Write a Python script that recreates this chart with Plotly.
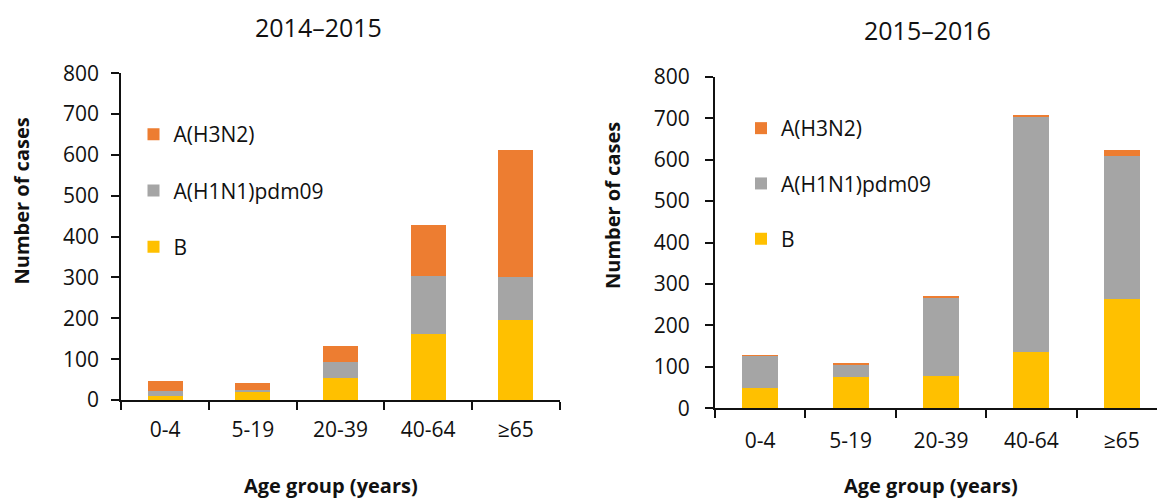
import plotly.graph_objects as go

W, H = 1157, 499

age_groups = ["0-4", "5-19", "20-39", "40-64", "≥65"]
series_names = ["B", "A(H1N1)pdm09", "A(H3N2)"]
series_colors = ["#FFC000", "#A5A5A5", "#ED7D31"]
legend_ranks = [3, 2, 1]

# 2014–2015 season
b_1415 = [10, 19, 55, 162, 197]
h1n1_1415 = [12, 6, 38, 142, 104]
h3n2_1415 = [25, 17, 40, 124, 312]

# 2015–2016 season
b_1516 = [48, 75, 78, 137, 264]
h1n1_1516 = [79, 32, 190, 568, 344]
h3n2_1516 = [1, 2, 2, 3, 14]

titles = ["2014–2015", "2015–2016"]
x_title = "Age group (years)"
y_title = "Number of cases"

FONT = "Open Sans"
TXT = "#111111"

def px(x):
    return x / W

def py(y):
    return (H - y) / H

fig = go.Figure()

for vals, name, col, rk in zip([b_1415, h1n1_1415, h3n2_1415], series_names, series_colors, legend_ranks):
    fig.add_trace(go.Bar(x=age_groups, y=vals, name=name, marker=dict(color=col, line=dict(width=0)),
                         xaxis="x", yaxis="y", legend="legend", legendgroup=name + "1", legendrank=rk))
for vals, name, col, rk in zip([b_1516, h1n1_1516, h3n2_1516], series_names, series_colors, legend_ranks):
    fig.add_trace(go.Bar(x=age_groups, y=vals, name=name, marker=dict(color=col, line=dict(width=0)),
                         xaxis="x2", yaxis="y2", legend="legend2", legendgroup=name + "2", legendrank=rk))

axis_common = dict(showline=True, linecolor="#111111", linewidth=2, ticks="outside", ticklen=8,
                   tickwidth=2, tickcolor="#111111", showgrid=False, zeroline=False, automargin=False,
                   tickfont=dict(family=FONT, size=21, color=TXT))

fig.update_layout(
    template="none",
    width=W, height=H, margin=dict(l=0, r=0, t=0, b=0, pad=0, autoexpand=False),
    paper_bgcolor="white", plot_bgcolor="white",
    barmode="stack", bargap=0.6,
    font=dict(family=FONT, color=TXT),
    xaxis=dict(domain=[px(121.3), px(559.7)], anchor="y", type="category", range=[-0.5, 4.5],
               tickson="boundaries", ticklabelstandoff=10, **axis_common),
    yaxis=dict(domain=[py(400), py(73.3)], anchor="x", range=[0, 800], dtick=100,
               ticklabelstandoff=8, **axis_common),
    xaxis2=dict(domain=[px(715), 1.0], anchor="y2", type="category", range=[-0.5, 4.5 - 10 / 90.4],
                tickson="boundaries", ticklabelstandoff=12, **axis_common),
    yaxis2=dict(domain=[py(408.3), py(76.7)], anchor="x2", range=[0, 800], dtick=100,
                ticklabelstandoff=11, **axis_common),
    legend=dict(x=px(133.5), y=py(114), xanchor="left", yanchor="top", traceorder="grouped",
                tracegroupgap=26, bgcolor="rgba(0,0,0,0)", font=dict(family=FONT, size=21, color=TXT)),
    legend2=dict(x=px(741), y=py(108), xanchor="left", yanchor="top", traceorder="grouped",
                 tracegroupgap=25, bgcolor="rgba(0,0,0,0)", font=dict(family=FONT, size=21, color=TXT)),
    showlegend=True,
)

annots = [
    dict(text=titles[0], x=px(318.7), y=py(27), size=25, bold=False, angle=0),
    dict(text=titles[1], x=px(927), y=py(30), size=25, bold=False, angle=0),
    dict(text=x_title, x=px(331), y=py(485), size=20, bold=True, angle=0),
    dict(text=x_title, x=px(931), y=py(485), size=20, bold=True, angle=0),
    dict(text=y_title, x=px(21), y=py(201.5), size=20, bold=True, angle=-90),
    dict(text=y_title, x=px(613), y=py(206), size=20, bold=True, angle=-90),
]
for a in annots:
    fig.add_annotation(text=("<b>%s</b>" % a["text"]) if a["bold"] else a["text"],
                       x=a["x"], y=a["y"], xref="paper", yref="paper", xanchor="center", yanchor="middle",
                       showarrow=False, textangle=a["angle"],
                       font=dict(family=FONT, size=a["size"], color=TXT))

fig.write_html("out.html", config={"displayModeBar": False},
               post_script="document.body.style.margin='0';document.body.style.overflow='hidden';")
